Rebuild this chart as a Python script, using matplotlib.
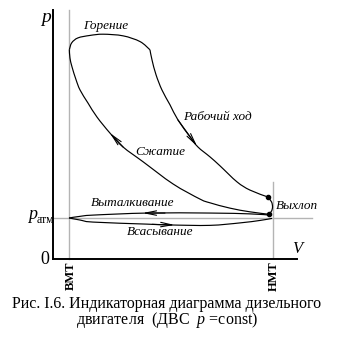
import matplotlib
matplotlib.use("Agg")
import matplotlib.pyplot as plt
from matplotlib.path import Path
from matplotlib.patches import PathPatch

plt.rcParams['font.family'] = ['Liberation Serif', 'DejaVu Serif']
plt.rcParams['mathtext.fontset'] = 'custom'
plt.rcParams['mathtext.it'] = 'Liberation Serif:italic'
plt.rcParams['mathtext.rm'] = 'Liberation Serif'

# ---- data (V in relative volume units, p in relative pressure units, p_atm = 1) ----
V_tdc = 1.0
V_bdc = 13.75
p_atm = 1.0

comb_V = [1.02, 1.17, 1.56, 2.31, 3.13, 4.38, 5.44, 6.06]
comb_p = [5.10, 5.27, 5.39, 5.45, 5.48, 5.44, 5.30, 5.10]

exp_V = [6.06, 6.19, 6.44, 6.81, 7.31, 7.81, 8.56, 9.06, 9.81, 10.44, 11.50, 12.31, 13.44]
exp_p = [5.10, 4.85, 4.49, 4.12, 3.76, 3.39, 2.98, 2.73, 2.49, 2.27, 1.88, 1.68, 1.51]

blow_V = [13.44, 13.66, 13.72, 13.66, 13.50]
blow_p = [1.51, 1.39, 1.27, 1.17, 1.09]

comp_V = [13.50, 12.31, 11.06, 9.81, 9.19, 7.50, 5.63, 4.38, 3.56, 2.75, 2.19, 1.69, 1.44, 1.19, 1.06, 1.02]
comp_p = [1.09, 1.15, 1.24, 1.37, 1.46, 1.83, 2.37, 2.73, 3.07, 3.46, 3.80, 4.12, 4.37, 4.68, 4.90, 5.10]

exh_V = [13.56, 12.31, 9.81, 5.88, 2.50, 1.69, 1.0]
exh_p = [1.07, 1.10, 1.12, 1.12, 1.07, 1.04, 1.0]

int_V = [1.0, 1.69, 2.50, 5.88, 7.31, 9.81, 11.69, 12.94, 13.69]
int_p = [1.0, 0.95, 0.90, 0.85, 0.83, 0.82, 0.88, 0.94, 0.99]

dots_V = [13.44, 13.50]
dots_p = [1.51, 1.09]

W, H = 339, 343
fig = plt.figure(figsize=(W / 100, H / 100), dpi=100)
fig.patch.set_facecolor('white')
ax = fig.add_axes([53 / W, (H - 259) / H, (297 - 53) / W, (259 - 10) / H])
ax.set_xlim(0, 15.25)
ax.set_ylim(0, 6.07)
ax.patch.set_alpha(0)
for s in ['top', 'right']:
    ax.spines[s].set_visible(False)
for s in ['left', 'bottom']:
    ax.spines[s].set_linewidth(1.4)
    ax.spines[s].set_color('black')
ax.set_xticks([])
ax.set_yticks([])

grey = '#b4b4b4'
ax.plot([V_tdc, V_tdc], [0, 6.07], color=grey, lw=1.0, zorder=1, clip_on=False)
ax.plot([V_bdc, V_bdc], [0, 1.88], color=grey, lw=1.0, zorder=1)
ax.plot([0, 16.2], [p_atm, p_atm], color=grey, lw=1.0, zorder=1, clip_on=False)


def smooth_path(xs, ys, k=1.0 / 6.0):
    """Bezier path passing through the read points (Catmull-Rom style handles)."""
    n = len(xs)
    verts = [(xs[0], ys[0])]
    codes = [Path.MOVETO]
    for i in range(n - 1):
        x0, y0 = xs[max(i - 1, 0)], ys[max(i - 1, 0)]
        x1, y1 = xs[i], ys[i]
        x2, y2 = xs[i + 1], ys[i + 1]
        x3, y3 = xs[min(i + 2, n - 1)], ys[min(i + 2, n - 1)]
        c1 = (x1 + (x2 - x0) * k, y1 + (y2 - y0) * k)
        c2 = (x2 - (x3 - x1) * k, y2 - (y3 - y1) * k)
        verts += [c1, c2, (x2, y2)]
        codes += [Path.CURVE4] * 3
    return Path(verts, codes)


lw = 0.85
for xs, ys in [(comb_V, comb_p), (exp_V, exp_p), (blow_V, blow_p),
               (comp_V, comp_p), (exh_V, exh_p), (int_V, int_p)]:
    ax.add_patch(PathPatch(smooth_path(xs, ys), facecolor='none', edgecolor='black',
                           lw=lw, zorder=3))
ax.plot(dots_V, dots_p, 'o', color='black', ms=3, zorder=4)

aprops = dict(arrowstyle='->,head_length=0.8,head_width=0.16', lw=0.8, color='black',
              shrinkA=0, shrinkB=0)
# compression arrow (up-left)
ax.annotate('', xy=(3.56, 3.07), xytext=(4.38, 2.73), arrowprops=aprops)
# expansion arrow (down-right)
ax.annotate('', xy=(9.0, 2.75), xytext=(7.81, 3.39), arrowprops=aprops)
# exhaust stroke arrow (left)
ax.annotate('', xy=(5.6, 1.12), xytext=(7.0, 1.12), arrowprops=aprops)
# intake stroke arrow (right)
ax.annotate('', xy=(7.6, 0.83), xytext=(6.2, 0.845), arrowprops=aprops)

it = dict(style='italic', fontsize=9.5, color='black')
ax.text(3.31, 5.68, 'Горение', ha='center', va='center', **it)
ax.text(10.25, 3.46, 'Рабочий ход', ha='center', va='center', **it)
ax.text(6.69, 2.61, 'Сжатие', ha='center', va='center', **it)
ax.text(5.0, 1.37, 'Выталкивание', ha='center', va='center', **it)
ax.text(6.69, 0.66, 'Всасывание', ha='center', va='center', **it)
ax.text(13.9, 1.29, 'Выхлоп', ha='left', va='center', **it)

# axis labels
fig.text(46 / W, 1 - 17 / H, 'p', style='italic', fontsize=14, ha='center', va='center')
fig.text(297 / W, 1 - 249 / H, 'V', style='italic', fontsize=12, ha='center', va='center')
fig.text(45 / W, 1 - 260 / H, '0', fontsize=13, ha='center', va='center')
fig.text(37 / W, 1 - 215 / H, 'p', style='italic', fontsize=13, ha='right', va='center')
fig.text(37 / W, 1 - 220 / H, 'атм', fontsize=8.5, ha='left', va='center')

fig.text(71 / W, 1 - 276 / H, 'ВМТ', fontsize=9, weight='bold', rotation=90,
         ha='center', va='center')
fig.text(274 / W, 1 - 276 / H, 'НМТ', fontsize=9, weight='bold', rotation=90,
         ha='center', va='center')

# caption
fig.text(167 / W, 1 - 313 / H,
         'Рис. I.6. Индикаторная диаграмма дизельного\n'
         'двигателя  (ДВС  $p$ =const)',
         fontsize=11.5, ha='center', va='center', multialignment='center',
         linespacing=0.92)

fig.savefig('out.png', dpi=100, facecolor='white')
